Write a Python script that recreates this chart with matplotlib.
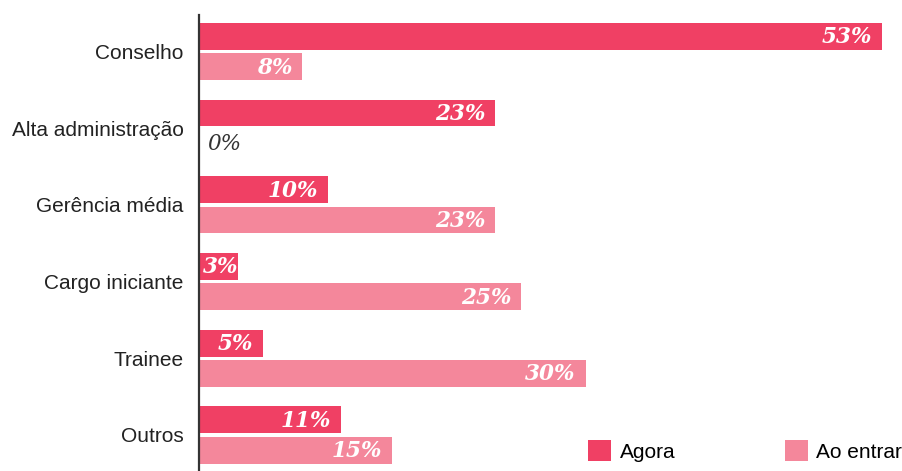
import matplotlib.pyplot as plt
import numpy as np

categorias = ['Conselho', 'Alta administração', 'Gerência média',
              'Cargo iniciante', 'Trainee', 'Outros']
agora = [53, 23, 10, 3, 5, 11]
ao_entrar = [8, 0, 23, 25, 30, 15]
series = ['Agora', 'Ao entrar']

cor_agora = '#F04064'
cor_entrar = '#F4879B'

plt.rcParams['font.family'] = ['Liberation Sans', 'DejaVu Sans']

fig = plt.figure(figsize=(9.02, 4.71), dpi=100)
W, H = 902, 471
ax = fig.add_axes([199 / W, 0, (882 - 199) / W, (471 - 15) / H])

y = np.arange(len(categorias))
off = 0.198
h = 0.35
b1 = ax.barh(y - off, agora, height=h, color=cor_agora, label=series[0])
b2 = ax.barh(y + off, ao_entrar, height=h, color=cor_entrar, label=series[1])

ax.set_xlim(0, 53)
ax.set_ylim(5.47, -0.476)

# value labels, white inside bar; pushed right if the bar is too short
fig.canvas.draw()
rend = fig.canvas.get_renderer()
px_per_unit = ax.bbox.width / 53
lbl = dict(family='DejaVu Serif', style='italic', fontsize=15.5)
for bars, vals in ((b1, agora), (b2, ao_entrar)):
    for rect, v in zip(bars, vals):
        yc = rect.get_y() + rect.get_height() / 2
        if v > 0:
            t = ax.annotate(f'{v}%', (v, yc), xytext=(-10, -1), textcoords='offset pixels',
                            ha='right', va='center', color='white', weight='bold', **lbl)
            tw = t.get_window_extent(rend).width
            if v * px_per_unit - 10 < tw + 4:
                t.set_position((4 + tw - v * px_per_unit, -1))
        else:
            ax.annotate(f'{v}%', (0, yc), xytext=(8, -1), textcoords='offset pixels',
                        ha='left', va='center', color='#333333', **lbl)

ax.set_yticks(y)
ax.set_yticklabels(categorias, fontsize=15, color='#222222')
ax.tick_params(axis='y', length=0, pad=11)
ax.set_xticks([])
for s in ['top', 'right', 'bottom']:
    ax.spines[s].set_visible(False)
ax.spines['left'].set_linewidth(1.6)
ax.spines['left'].set_color('#333333')

fig.legend(handles=[b1, b2], loc='center left', bbox_to_anchor=(588 / W, 1 - 451 / H),
           ncol=2, frameon=False, fontsize=15, handlelength=1.1, handleheight=1.15,
           handletextpad=0.42, columnspacing=5.25, borderpad=0, borderaxespad=0)

fig.savefig('out.png', dpi=100)
